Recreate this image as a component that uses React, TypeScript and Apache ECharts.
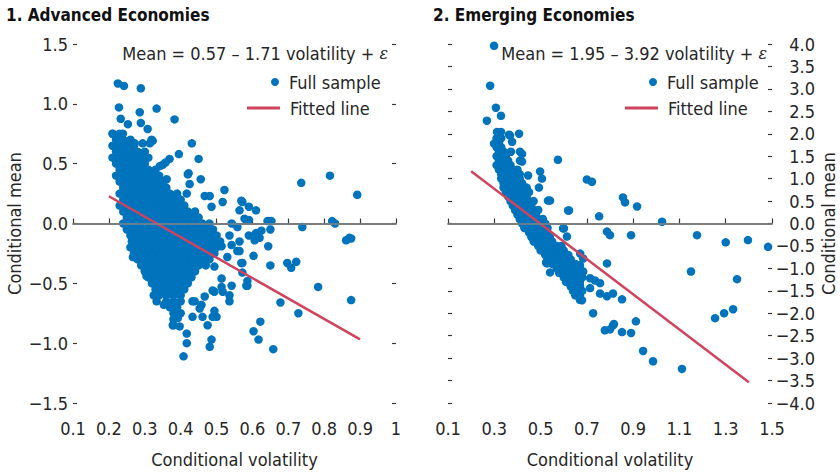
import React, { useEffect, useRef } from 'react';
import * as echarts from 'echarts';

const FONT = '"Liberation Sans Narrow", "Arial Narrow", "DejaVu Sans Condensed", "Roboto", sans-serif';
const BLUE = '#0073BD';
const RED = '#D0435E';
const TXT = '#262626';

// ---------- Panel 1: Advanced Economies ----------
const aeTitle = '1. Advanced Economies';
const aeEquation = 'Mean = 0.57 – 1.71 volatility + ';
const aeIntercept = 0.57;
const aeSlope = -1.71;
const aeFitX = [0.2, 0.9];
const aeXTicks = { min: 0.1, max: 1, interval: 0.1 };
const aeYTicks = { min: -1.5, max: 1.5, interval: 0.5 };

// dense core read row by row: [conditional mean, conditional volatilities]
const aeDenseRows: [number, number[]][] = [
  [0.75, [0.21, 0.23]],
  [0.70, [0.22, 0.24, 0.26]],
  [0.65, [0.21, 0.23, 0.25, 0.27]],
  [0.60, [0.22, 0.24, 0.26, 0.28, 0.30]],
  [0.55, [0.21, 0.23, 0.25, 0.27, 0.29, 0.31]],
  [0.50, [0.22, 0.24, 0.26, 0.28, 0.30]],
  [0.45, [0.23, 0.25, 0.27, 0.29, 0.31, 0.33]],
  [0.40, [0.22, 0.24, 0.26, 0.28, 0.30, 0.32, 0.34]],
  [0.35, [0.23, 0.25, 0.27, 0.29, 0.31, 0.33, 0.35]],
  [0.30, [0.24, 0.26, 0.28, 0.30, 0.32, 0.34, 0.36]],
  [0.25, [0.23, 0.25, 0.27, 0.29, 0.31, 0.33, 0.35, 0.37, 0.39]],
  [0.20, [0.24, 0.26, 0.28, 0.30, 0.32, 0.34, 0.36, 0.38, 0.40]],
  [0.15, [0.23, 0.25, 0.27, 0.29, 0.31, 0.33, 0.35, 0.37, 0.39, 0.41]],
  [0.10, [0.24, 0.26, 0.28, 0.30, 0.32, 0.34, 0.36, 0.38, 0.40, 0.42, 0.44]],
  [0.05, [0.25, 0.27, 0.29, 0.31, 0.33, 0.35, 0.37, 0.39, 0.41, 0.43, 0.45]],
  [0.00, [0.24, 0.26, 0.28, 0.30, 0.32, 0.34, 0.36, 0.38, 0.40, 0.42, 0.44, 0.46, 0.48]],
  [-0.05, [0.25, 0.27, 0.29, 0.31, 0.33, 0.35, 0.37, 0.39, 0.41, 0.43, 0.45, 0.47, 0.49]],
  [-0.10, [0.26, 0.28, 0.30, 0.32, 0.34, 0.36, 0.38, 0.40, 0.42, 0.44, 0.46, 0.48, 0.50]],
  [-0.15, [0.27, 0.29, 0.31, 0.33, 0.35, 0.37, 0.39, 0.41, 0.43, 0.45, 0.47, 0.49, 0.51]],
  [-0.20, [0.26, 0.28, 0.30, 0.32, 0.34, 0.36, 0.38, 0.40, 0.42, 0.44, 0.46, 0.48, 0.50]],
  [-0.25, [0.27, 0.29, 0.31, 0.33, 0.35, 0.37, 0.39, 0.41, 0.43, 0.45, 0.47, 0.49]],
  [-0.30, [0.28, 0.30, 0.32, 0.34, 0.36, 0.38, 0.40, 0.42, 0.44, 0.46, 0.48]],
  [-0.35, [0.29, 0.31, 0.33, 0.35, 0.37, 0.39, 0.41, 0.43, 0.45, 0.47]],
  [-0.40, [0.30, 0.32, 0.34, 0.36, 0.38, 0.40, 0.42, 0.44]],
  [-0.45, [0.31, 0.33, 0.35, 0.37, 0.39, 0.41, 0.43]],
  [-0.50, [0.32, 0.34, 0.36, 0.38, 0.40, 0.42]],
  [-0.55, [0.33, 0.35, 0.37, 0.39, 0.41]],
  [-0.60, [0.34, 0.36, 0.38, 0.40]],
  [-0.65, [0.36, 0.38, 0.40]],
  [-0.70, [0.37, 0.39]],
  [-0.75, [0.38, 0.40]],
  [-0.80, [0.38]],
  [-0.85, [0.38]],
];

// individually read points: [volatility, mean]
const aeSparse: [number, number][] = [
  [0.225, 1.17], [0.242, 1.15], [0.289, 1.13], [0.228, 0.97], [0.333, 0.96], [0.286, 0.93],
  [0.383, 0.87], [0.233, 0.875], [0.253, 0.83], [0.289, 0.84], [0.308, 0.79], [0.211, 0.75],
  [0.239, 0.75], [0.431, 0.67], [0.322, 0.69], [0.395, 0.58], [0.45, 0.54], [0.42, 0.41],
  [0.736, 0.34], [0.816, 0.40], [0.892, 0.24], [0.522, 0.28], [0.456, 0.37], [0.369, 0.54],
  [0.35, 0.49], [0.822, 0.02], [0.739, -0.03], [0.647, 0.02], [0.87, -0.12],
  [0.272, 0.67], [0.294, 0.67], [0.314, 0.67], [0.319, 0.70], [0.342, 0.48], [0.358, 0.51],
  [0.572, 0.18], [0.59, 0.14], [0.61, 0.11], [0.578, 0.04], [0.59, 0.03], [0.642, 0.02],
  [0.653, 0.02], [0.83, 0.0], [0.65, -0.05], [0.625, -0.06], [0.61, -0.08], [0.59, -0.1],
  [0.606, -0.14], [0.62, -0.12], [0.861, -0.14], [0.875, -0.125], [0.644, -0.19], [0.564, -0.15],
  [0.603, -0.27], [0.564, -0.23], [0.572, -0.33], [0.65, -0.35], [0.697, -0.33], [0.708, -0.37],
  [0.722, -0.32], [0.572, -0.41], [0.586, -0.48], [0.586, -0.52], [0.783, -0.53], [0.875, -0.64],
  [0.678, -0.66], [0.728, -0.75], [0.622, -0.82], [0.603, -0.9], [0.617, -0.97], [0.658, -1.05],
  [0.408, -1.11], [0.417, -1.0], [0.417, -0.92], [0.481, -1.03], [0.486, -0.97], [0.378, -0.85],
  [0.397, -0.86], [0.433, -0.78], [0.461, -0.78], [0.475, -0.85], [0.494, -0.73], [0.5, -0.78],
  [0.328, -0.6], [0.333, -0.65], [0.353, -0.68], [0.389, -0.71], [0.433, -0.65], [0.453, -0.71],
  [0.536, -0.65], [0.583, -0.52], [0.305, -0.44], [0.267, -0.28], [0.264, -0.15],
  [0.336, 0.39], [0.361, 0.37], [0.383, 0.22], [0.425, 0.33], [0.422, 0.42], [0.417, 0.25],
  [0.467, 0.23], [0.481, 0.23], [0.517, 0.18], [0.486, 0.14], [0.569, 0.19], [0.564, 0.11],
  [0.542, 0.0], [0.558, -0.03], [0.536, -0.1], [0.542, -0.18], [0.514, -0.19], [0.558, -0.23],
  [0.53, -0.28], [0.494, -0.25], [0.569, -0.33], [0.542, -0.52], [0.536, -0.6], [0.489, -0.56],
  [0.514, -0.53], [0.489, -0.78], [0.392, -0.79], [0.361, -0.67], [0.325, -0.6], [0.458, -0.68],
  [0.439, -0.65], [0.467, -0.61], [0.494, -0.57], [0.517, -0.57], [0.514, -0.46], [0.494, -0.36],
];

// ---------- Panel 2: Emerging Economies ----------
const emTitle = '2. Emerging Economies';
const emEquation = 'Mean = 1.95 – 3.92 volatility + ';
const emIntercept = 1.95;
const emSlope = -3.92;
const emFitX = [0.2, 1.4];
const emXLabels = [0.1, 0.3, 0.5, 0.7, 0.9, 1.1, 1.3, 1.5];
const emYTicks = { min: -4, max: 4, interval: 0.5 };

const emDenseRows: [number, number[]][] = [
  [1.9, [0.31, 0.33]],
  [1.8, [0.32]],
  [1.7, [0.31, 0.33]],
  [1.6, [0.32, 0.34]],
  [1.5, [0.31, 0.33, 0.35]],
  [1.4, [0.32, 0.34, 0.36]],
  [1.3, [0.31, 0.33, 0.35, 0.37]],
  [1.2, [0.32, 0.34, 0.36, 0.38, 0.40]],
  [1.1, [0.33, 0.35, 0.37, 0.39, 0.41]],
  [1.0, [0.33, 0.35, 0.37, 0.39, 0.41]],
  [0.9, [0.34, 0.36, 0.38, 0.40, 0.42]],
  [0.8, [0.34, 0.36, 0.38, 0.40, 0.42, 0.44]],
  [0.7, [0.35, 0.37, 0.39, 0.41, 0.43, 0.45]],
  [0.6, [0.36, 0.38, 0.40, 0.42, 0.44]],
  [0.5, [0.37, 0.39, 0.41, 0.43, 0.45, 0.47]],
  [0.4, [0.38, 0.40, 0.42, 0.44, 0.46]],
  [0.3, [0.39, 0.41, 0.43, 0.45, 0.47, 0.49]],
  [0.2, [0.40, 0.42, 0.44, 0.46, 0.48]],
  [0.1, [0.41, 0.43, 0.45, 0.47, 0.49, 0.51]],
  [0.0, [0.42, 0.44, 0.46, 0.48, 0.50, 0.52]],
  [-0.1, [0.43, 0.45, 0.47, 0.49, 0.51, 0.53]],
  [-0.2, [0.45, 0.47, 0.49, 0.51, 0.53]],
  [-0.3, [0.46, 0.48, 0.50, 0.52, 0.54]],
  [-0.4, [0.47, 0.49, 0.51, 0.53, 0.55]],
  [-0.5, [0.49, 0.51, 0.53, 0.55, 0.57, 0.59]],
  [-0.6, [0.50, 0.52, 0.54, 0.56, 0.58, 0.60]],
  [-0.7, [0.52, 0.54, 0.56, 0.58, 0.60, 0.62]],
  [-0.8, [0.53, 0.55, 0.57, 0.59, 0.61, 0.63]],
  [-0.9, [0.55, 0.57, 0.59, 0.61, 0.63, 0.65]],
  [-1.0, [0.57, 0.59, 0.61, 0.63, 0.65, 0.67]],
  [-1.1, [0.58, 0.60, 0.62, 0.64, 0.66]],
  [-1.2, [0.60, 0.62, 0.64, 0.66, 0.68]],
  [-1.3, [0.61, 0.63, 0.65, 0.67]],
  [-1.4, [0.63, 0.65, 0.67]],
  [-1.5, [0.64, 0.66, 0.68]],
  [-1.6, [0.65, 0.67]],
  [-1.7, [0.67]],
];

const emSparse: [number, number][] = [
  [0.299, 3.96], [0.282, 3.07], [0.307, 2.58], [0.329, 2.40], [0.268, 2.29], [0.312, 2.04],
  [0.329, 2.04], [0.299, 1.78], [0.364, 1.98], [0.407, 2.0], [0.377, 1.82], [0.575, 1.42],
  [0.325, 1.58], [0.372, 1.60], [0.411, 1.60], [0.42, 1.38], [0.446, 1.07], [0.498, 1.16],
  [0.506, 1.0], [0.493, 0.8], [0.541, 0.51], [0.623, 0.29], [0.70, 0.98], [0.722, 0.93],
  [0.856, 0.58], [0.865, 0.47], [0.917, 0.38], [0.753, 0.16], [1.025, 0.04], [0.601, -0.11],
  [0.787, -0.18], [0.80, -0.26], [0.891, -0.26], [1.176, -0.26], [1.30, -0.42], [1.396, -0.37],
  [1.483, -0.52], [1.15, -1.07], [1.349, -1.24], [1.254, -2.11], [1.293, -2.0], [1.332, -1.91],
  [0.787, -0.89], [0.727, -2.0], [0.778, -2.38], [0.80, -2.36], [0.817, -2.24], [0.852, -2.42],
  [0.891, -2.44], [0.912, -2.18], [0.943, -2.84], [0.986, -3.07], [1.111, -3.24], [0.757, -1.56],
  [0.787, -1.62], [0.813, -1.56], [0.852, -1.69], [0.524, -0.87], [0.541, -1.09], [0.679, -1.71],
  [0.757, -1.33], [0.714, -1.44], [0.735, -1.27], [0.671, -0.67], [0.684, -0.78], [0.684, -1.07],
  [0.532, 0.51], [0.619, 0.29], [0.597, -0.11], [0.614, -0.29], [0.528, -0.89], [0.67, -0.93],
  [0.714, -1.22], [0.67, -1.38], [0.662, -1.6], [0.813, -2.27], [0.368, 1.96], [0.411, 1.4],
  [0.42, 1.55],
];

const flattenRows = (rows: [number, number[]][]) =>
  rows.flatMap(([y, xs]) => xs.map((x) => [x, y] as [number, number]));

const fmt1 = (v: number) => (v < -1e-9 ? '−' : '') + Math.abs(v).toFixed(1);
const fmtX = (v: number) => String(Number(v.toFixed(1)));

export default function App() {
  const ref = useRef<HTMLDivElement>(null);
  useEffect(() => {
    if (!ref.current) return;
    const chart = echarts.init(ref.current, undefined, { renderer: 'svg' });
    const aePoints = [...flattenRows(aeDenseRows), ...aeSparse];
    const emPoints = [...flattenRows(emDenseRows), ...emSparse];
    const aeFit = aeFitX.map((x) => [x, aeIntercept + aeSlope * x]);
    const emFit = emFitX.map((x) => [x, emIntercept + emSlope * x]);

    const labelStyle = { fontFamily: FONT, fontSize: 18, color: TXT };
    const nameStyle = { fontFamily: FONT, fontSize: 18, color: TXT };
    const axisColor = '#3a3a3a';
    const tickStyle = { show: true, inside: true, length: 4, lineStyle: { color: axisColor, width: 1.2 } };
    const zeroLine = (xi: number, yi: number) => ({
      type: 'line',
      xAxisIndex: xi,
      yAxisIndex: yi,
      data: [],
      silent: true,
      z: 1,
      markLine: {
        silent: true,
        symbol: 'none',
        label: { show: false },
        lineStyle: { color: '#858585', width: 1.5, type: 'solid' },
        data: [{ yAxis: 0 }],
      },
    });

    const legendBase = {
      orient: 'vertical',
      padding: 0,
      selectedMode: false,
      textStyle: { fontFamily: FONT, fontSize: 18, color: TXT, lineHeight: 20, padding: [0, 0, 0, 5] },
    };
    const titleStyle = { fontFamily: FONT, fontSize: 17, fontWeight: 'bold', color: '#111' };

    chart.setOption({
      animation: false,
      title: [
        { text: aeTitle, left: 6, top: 6, padding: 0, textStyle: titleStyle },
        { text: emTitle, left: 433, top: 6, padding: 0, textStyle: titleStyle },
      ],
      grid: [
        { left: 73, right: 444, top: 44, bottom: 69 },
        { left: 448, right: 68, top: 44, bottom: 69 },
      ],
      xAxis: [
        {
          gridIndex: 0, type: 'value', min: aeXTicks.min, max: aeXTicks.max, interval: aeXTicks.interval,
          name: 'Conditional volatility', nameLocation: 'middle', nameGap: 47, nameTextStyle: nameStyle,
          axisLine: { show: true, lineStyle: { color: axisColor, width: 1.5 } },
          axisTick: { ...tickStyle, length: 5 },
          axisLabel: { ...labelStyle, margin: 16, formatter: fmtX },
          splitLine: { show: false },
        },
        {
          gridIndex: 1, type: 'value', min: 0.1, max: 1.5,
          name: 'Conditional volatility', nameLocation: 'middle', nameGap: 47, nameTextStyle: nameStyle,
          axisLine: { show: true, lineStyle: { color: axisColor, width: 1.5 } },
          axisTick: { ...tickStyle, length: 5, customValues: emXLabels },
          axisLabel: { ...labelStyle, margin: 16, formatter: fmtX, customValues: emXLabels },
          splitLine: { show: false },
        },
      ],
      yAxis: [
        {
          gridIndex: 0, type: 'value', position: 'left', min: aeYTicks.min, max: aeYTicks.max, interval: aeYTicks.interval,
          name: 'Conditional mean', nameLocation: 'middle', nameGap: 50, nameTextStyle: nameStyle,
          axisLine: { show: false }, axisTick: tickStyle,
          axisLabel: { ...labelStyle, margin: 5, formatter: fmt1 },
          splitLine: { show: false },
        },
        {
          gridIndex: 0, type: 'value', position: 'right', min: aeYTicks.min, max: aeYTicks.max, interval: aeYTicks.interval,
          axisLine: { show: false }, axisTick: tickStyle, axisLabel: { show: false }, splitLine: { show: false },
        },
        {
          gridIndex: 1, type: 'value', position: 'right', min: emYTicks.min, max: emYTicks.max, interval: emYTicks.interval,
          name: 'Conditional mean', nameLocation: 'middle', nameGap: 47, nameTextStyle: nameStyle,
          axisLine: { show: false }, axisTick: tickStyle,
          axisLabel: { ...labelStyle, margin: 43, align: 'right', formatter: fmt1 },
          splitLine: { show: false },
        },
        {
          gridIndex: 1, type: 'value', position: 'left', min: emYTicks.min, max: emYTicks.max, interval: emYTicks.interval,
          axisLine: { show: false }, axisTick: tickStyle, axisLabel: { show: false }, splitLine: { show: false },
        },
      ],
      legend: [
        { ...legendBase, left: 271, top: 72, itemWidth: 8, itemHeight: 8, data: [{ name: 'Full sample', icon: 'circle' }] },
        { ...legendBase, left: 247, top: 98, itemWidth: 33, itemHeight: 3, data: [{ name: 'Fitted line', icon: 'rect' }] },
        { ...legendBase, left: 649, top: 72, itemWidth: 8, itemHeight: 8, data: [{ name: 'Full sample', icon: 'circle' }] },
        { ...legendBase, left: 625, top: 98, itemWidth: 33, itemHeight: 3, data: [{ name: 'Fitted line', icon: 'rect' }] },
      ],
      graphic: [
        {
          type: 'text', x: 388, y: 53, z: 10,
          style: {
            text: `{a|${aeEquation}}{e|ε}`, align: 'right', verticalAlign: 'middle',
            rich: {
              a: { fontFamily: FONT, fontSize: 18, fill: TXT },
              e: { fontFamily: 'DejaVu Serif, serif', fontStyle: 'italic', fontSize: 16, fill: TXT },
            },
          },
        },
        {
          type: 'text', x: 767, y: 53, z: 10,
          style: {
            text: `{a|${emEquation}}{e|ε}`, align: 'right', verticalAlign: 'middle',
            rich: {
              a: { fontFamily: FONT, fontSize: 18, fill: TXT },
              e: { fontFamily: 'DejaVu Serif, serif', fontStyle: 'italic', fontSize: 16, fill: TXT },
            },
          },
        },
      ],
      series: [
        zeroLine(0, 0),
        zeroLine(1, 2),
        {
          name: 'Full sample', type: 'scatter', xAxisIndex: 0, yAxisIndex: 0, data: aePoints,
          symbol: 'circle', symbolSize: 8.5, itemStyle: { color: BLUE, opacity: 1 }, z: 2,
        },
        {
          name: 'Fitted line', type: 'line', xAxisIndex: 0, yAxisIndex: 0, data: aeFit,
          symbol: 'none', lineStyle: { color: RED, width: 2.5 }, itemStyle: { color: RED }, z: 3,
        },
        {
          name: 'Full sample', type: 'scatter', xAxisIndex: 1, yAxisIndex: 2, data: emPoints,
          symbol: 'circle', symbolSize: 8.5, itemStyle: { color: BLUE, opacity: 1 }, z: 2,
        },
        {
          name: 'Fitted line', type: 'line', xAxisIndex: 1, yAxisIndex: 2, data: emFit,
          symbol: 'none', lineStyle: { color: RED, width: 2.5 }, itemStyle: { color: RED }, z: 3,
        },
      ],
    });
    return () => chart.dispose();
  }, []);
  return (
    <div
      ref={ref}
      style={{ position: 'absolute', left: 0, top: 0, width: 840, height: 473, background: '#fff' }}
    />
  );
}
